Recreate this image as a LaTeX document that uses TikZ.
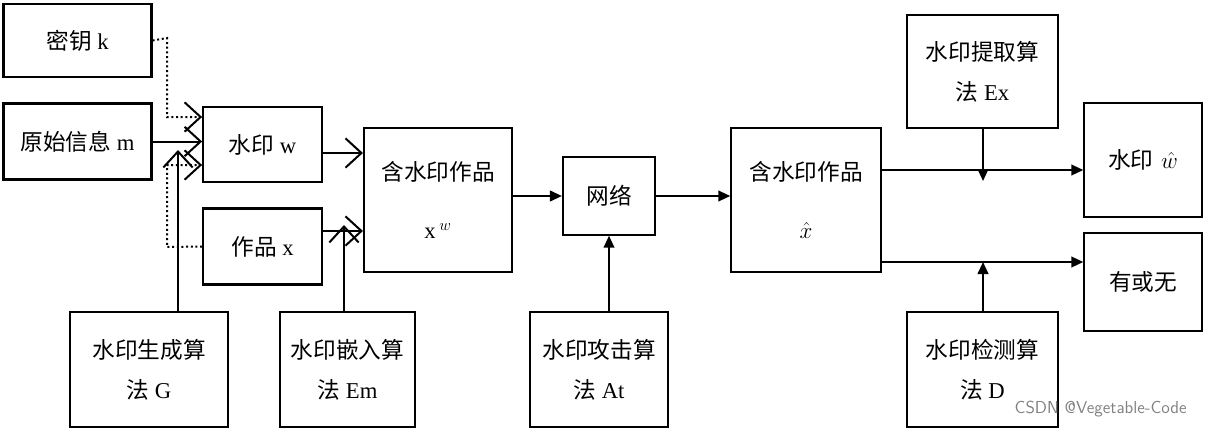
\documentclass[tikz,border=0pt]{standalone}
\usepackage{fontspec}
\setmainfont{Liberation Serif}
\newfontfamily\cjk{Noto Sans CJK SC}
\usetikzlibrary{arrows.meta}
\tikzset{every picture/.style={line width=1.5pt},
  blk/.style={draw,rectangle,inner sep=2pt,align=center,font=\fontsize{17}{30}\selectfont,line width=1.6pt},
  barb/.style={-{Straight Barb[length=12pt,width=22pt]}},
  tri/.style={-{Triangle[length=9pt,width=8pt]}}}

\begin{document}
\begin{tikzpicture}[x=0.75pt,y=0.75pt,yscale=-1,xscale=1]
\useasboundingbox (0,0) rectangle (1205,429);
%Shapes
\node[blk,minimum width=111pt,minimum height=55pt] (key) at (77.5,40.5) {{\cjk 密钥} k};
\node[blk,minimum width=111pt,minimum height=57pt] (msg) at (77.5,141.5) {{\cjk 原始信息} m};
\node[blk,minimum width=89pt,minimum height=56pt] (wm) at (262.5,144.5) {{\cjk 水印} w};
\node[blk,minimum width=89pt,minimum height=57pt] (work) at (262.5,246.5) {{\cjk 作品} x};
\node[blk,minimum width=111pt,minimum height=108pt] (marked) at (438,200) {{\cjk 含水印作品}\\[14pt]x\,$^{w}$};
\node[blk,minimum width=69pt,minimum height=58pt] (net) at (609,196) {\cjk 网络};
\node[blk,minimum width=112pt,minimum height=108pt] (recv) at (806,200) {{\cjk 含水印作品}\\[14pt]$\hat{x}$};
\node[blk,minimum width=113pt,minimum height=85pt] (ext) at (982.5,71.5) {{\cjk 水印提取算}\\{\cjk 法} Ex};
\node[blk,minimum width=88pt,minimum height=85pt] (wout) at (1143,160) {{\cjk 水印}\,\,$\hat{w}$};
\node[blk,minimum width=88pt,minimum height=73pt] (yn) at (1143,282) {\cjk 有或无};
\node[blk,minimum width=113pt,minimum height=86pt] (det) at (982.5,369.5) {{\cjk 水印检测算}\\{\cjk 法} D};
\node[blk,minimum width=118pt,minimum height=86pt] (gen) at (149,369.5) {{\cjk 水印生成算}\\{\cjk 法} G};
\node[blk,minimum width=101pt,minimum height=86pt] (emb) at (347.5,369.5) {{\cjk 水印嵌入算}\\{\cjk 法} Em};
\node[blk,minimum width=103pt,minimum height=86pt] (att) at (599,369.5) {{\cjk 水印攻击算}\\{\cjk 法} At};

%Connectors
\coordinate (kj) at (167,117);
\coordinate (xj) at (167,165);
\draw[dotted,barb] (key.east) -- (167,38) -- (kj) -- (wm.west |- kj);
\draw[dotted,barb] (work.west) -- (167,247) -- (xj) -- (wm.west |- xj);
\draw[barb] (msg.east) -- (wm.west |- msg.east);
\draw[barb] (gen.north -| 178,0) -- (178,150);
\draw[barb] (wm.east |- 0,153) -- (marked.west |- 0,153);
\draw[barb] (work.east |- 0,231) -- (marked.west |- 0,231);
\draw[barb] (emb.north -| 344,0) -- (344,225);
\draw[tri] (marked.east |- net.west) -- (net.west);
\draw[tri] (net.east) -- (recv.west |- net.east);
\draw[tri] (att.north -| net.south) -- (net.south);
\draw[tri] (recv.east |- 0,170) -- (wout.west |- 0,170);
\draw[tri] (recv.east |- 0,262) -- (yn.west |- 0,262);
\draw[tri] (ext.south -| 983,0) -- (983,181);
\draw[tri] (det.north -| 983,0) -- (983,262);
\node[text=gray,font=\fontsize{13}{15}\selectfont\sffamily,anchor=east] (mark) at (1192,409) {CSDN @Vegetable-Code};
\end{tikzpicture}
\end{document}
